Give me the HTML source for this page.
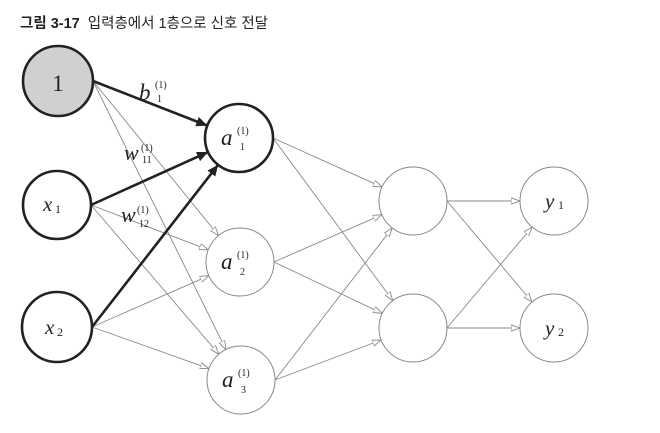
<!DOCTYPE html>
<html><head><meta charset="utf-8"><style>
html,body{margin:0;padding:0;background:#fff;}
body{width:660px;height:433px;overflow:hidden;position:relative;}
.t{position:absolute;left:20px;top:12px;font-family:"Liberation Sans","Noto Sans CJK KR",sans-serif;font-size:14.5px;color:#222;}
</style></head><body>
<div class="t"><b>그림 3-17</b>&nbsp; 입력층에서 1층으로 신호 전달</div>
<svg id="s" width="660" height="433" style="position:absolute;left:0;top:0" font-family="Liberation Serif, serif">
<defs>
<marker id="o" viewBox="0 0 10 10" refX="10" refY="5" markerWidth="9" markerHeight="9" markerUnits="userSpaceOnUse" orient="auto"><path d="M0,1.5 L10,5 L0,8.5 Z" fill="#fff" stroke="#888" stroke-width="1"/></marker>
<marker id="f" viewBox="0 0 10 10" refX="10" refY="5" markerWidth="13" markerHeight="11" markerUnits="userSpaceOnUse" orient="auto"><path d="M0,0.5 L10,5 L0,9.5 Z" fill="#222"/></marker>
</defs>
<g id="lines"></g>
<g id="nodes"></g>
<g fill="#222" font-style="italic">
<text x="58" y="91" font-size="23" font-style="normal" text-anchor="middle">1</text>
<text x="43" y="211" font-size="21">x</text><text x="55" y="213" font-size="12" font-style="normal">1</text>
<text x="45" y="334" font-size="21">x</text><text x="57" y="336" font-size="12" font-style="normal">2</text>
<text x="221" y="145" font-size="23">a</text><text x="237" y="134" font-size="10" font-style="normal">(1)</text><text x="240" y="150" font-size="10" font-style="normal">1</text>
<text x="221" y="269" font-size="23">a</text><text x="237" y="258" font-size="10" font-style="normal">(1)</text><text x="240" y="275" font-size="10" font-style="normal">2</text>
<text x="222" y="387" font-size="23">a</text><text x="238" y="376" font-size="10" font-style="normal">(1)</text><text x="241" y="393" font-size="10" font-style="normal">3</text>
<text x="545" y="208" font-size="21">y</text><text x="558" y="209" font-size="12" font-style="normal">1</text>
<text x="545" y="335" font-size="21">y</text><text x="558" y="336" font-size="12" font-style="normal">2</text>
<text x="139" y="100" font-size="23">b</text><text x="155" y="88" font-size="10" font-style="normal">(1)</text><text x="157" y="102" font-size="10" font-style="normal">1</text>
<text x="124" y="160" font-size="22">w</text><text x="141" y="151" font-size="10" font-style="normal">(1)</text><text x="142" y="163" font-size="10" font-style="normal">11</text>
<text x="121" y="222" font-size="22">w</text><text x="137" y="213" font-size="10" font-style="normal">(1)</text><text x="139" y="227" font-size="10" font-style="normal">12</text>
</g>
</svg>
<script>
var N={b:[58,81,35],x1:[57,205,34],x2:[57,327,35],a1:[239,138,34],a2:[240,262,34],a3:[241,380,34],h1:[413,201,34],h2:[413,328,34],y1:[554,201,34],y2:[554,328,34]};
var L=document.getElementById('lines'),G=document.getElementById('nodes'),ns='http://www.w3.org/2000/svg';
function ln(a,b,thick){var A=N[a],B=N[b],sx=A[0]+A[2],sy=A[1],dx=B[0]-sx,dy=B[1]-sy,d=Math.hypot(dx,dy);
var e=document.createElementNS(ns,'line');e.setAttribute('x1',sx);e.setAttribute('y1',sy);
e.setAttribute('x2',B[0]-dx/d*B[2]);e.setAttribute('y2',B[1]-dy/d*B[2]);
e.setAttribute('stroke',thick?'#222':'#888');e.setAttribute('stroke-width',thick?2.6:0.9);e.setAttribute('marker-end',thick?'url(#f)':'url(#o)');L.appendChild(e);}
['b','x1','x2'].forEach(function(s){ln(s,'a2');ln(s,'a3');});
['a1','a2','a3'].forEach(function(s){ln(s,'h1');ln(s,'h2');});
['h1','h2'].forEach(function(s){ln(s,'y1');ln(s,'y2');});
['b','x1','x2'].forEach(function(s){ln(s,'a1',1);});
for(var k in N){var c=document.createElementNS(ns,'circle'),n=N[k];c.setAttribute('cx',n[0]);c.setAttribute('cy',n[1]);c.setAttribute('r',n[2]);
var th=(k=='b'||k=='x1'||k=='x2'||k=='a1');c.setAttribute('fill',k=='b'?'#d0d0d0':'#fff');c.setAttribute('stroke',th?'#222':'#888');c.setAttribute('stroke-width',th?2.6:1);G.appendChild(c);}
</script>
</body></html>
